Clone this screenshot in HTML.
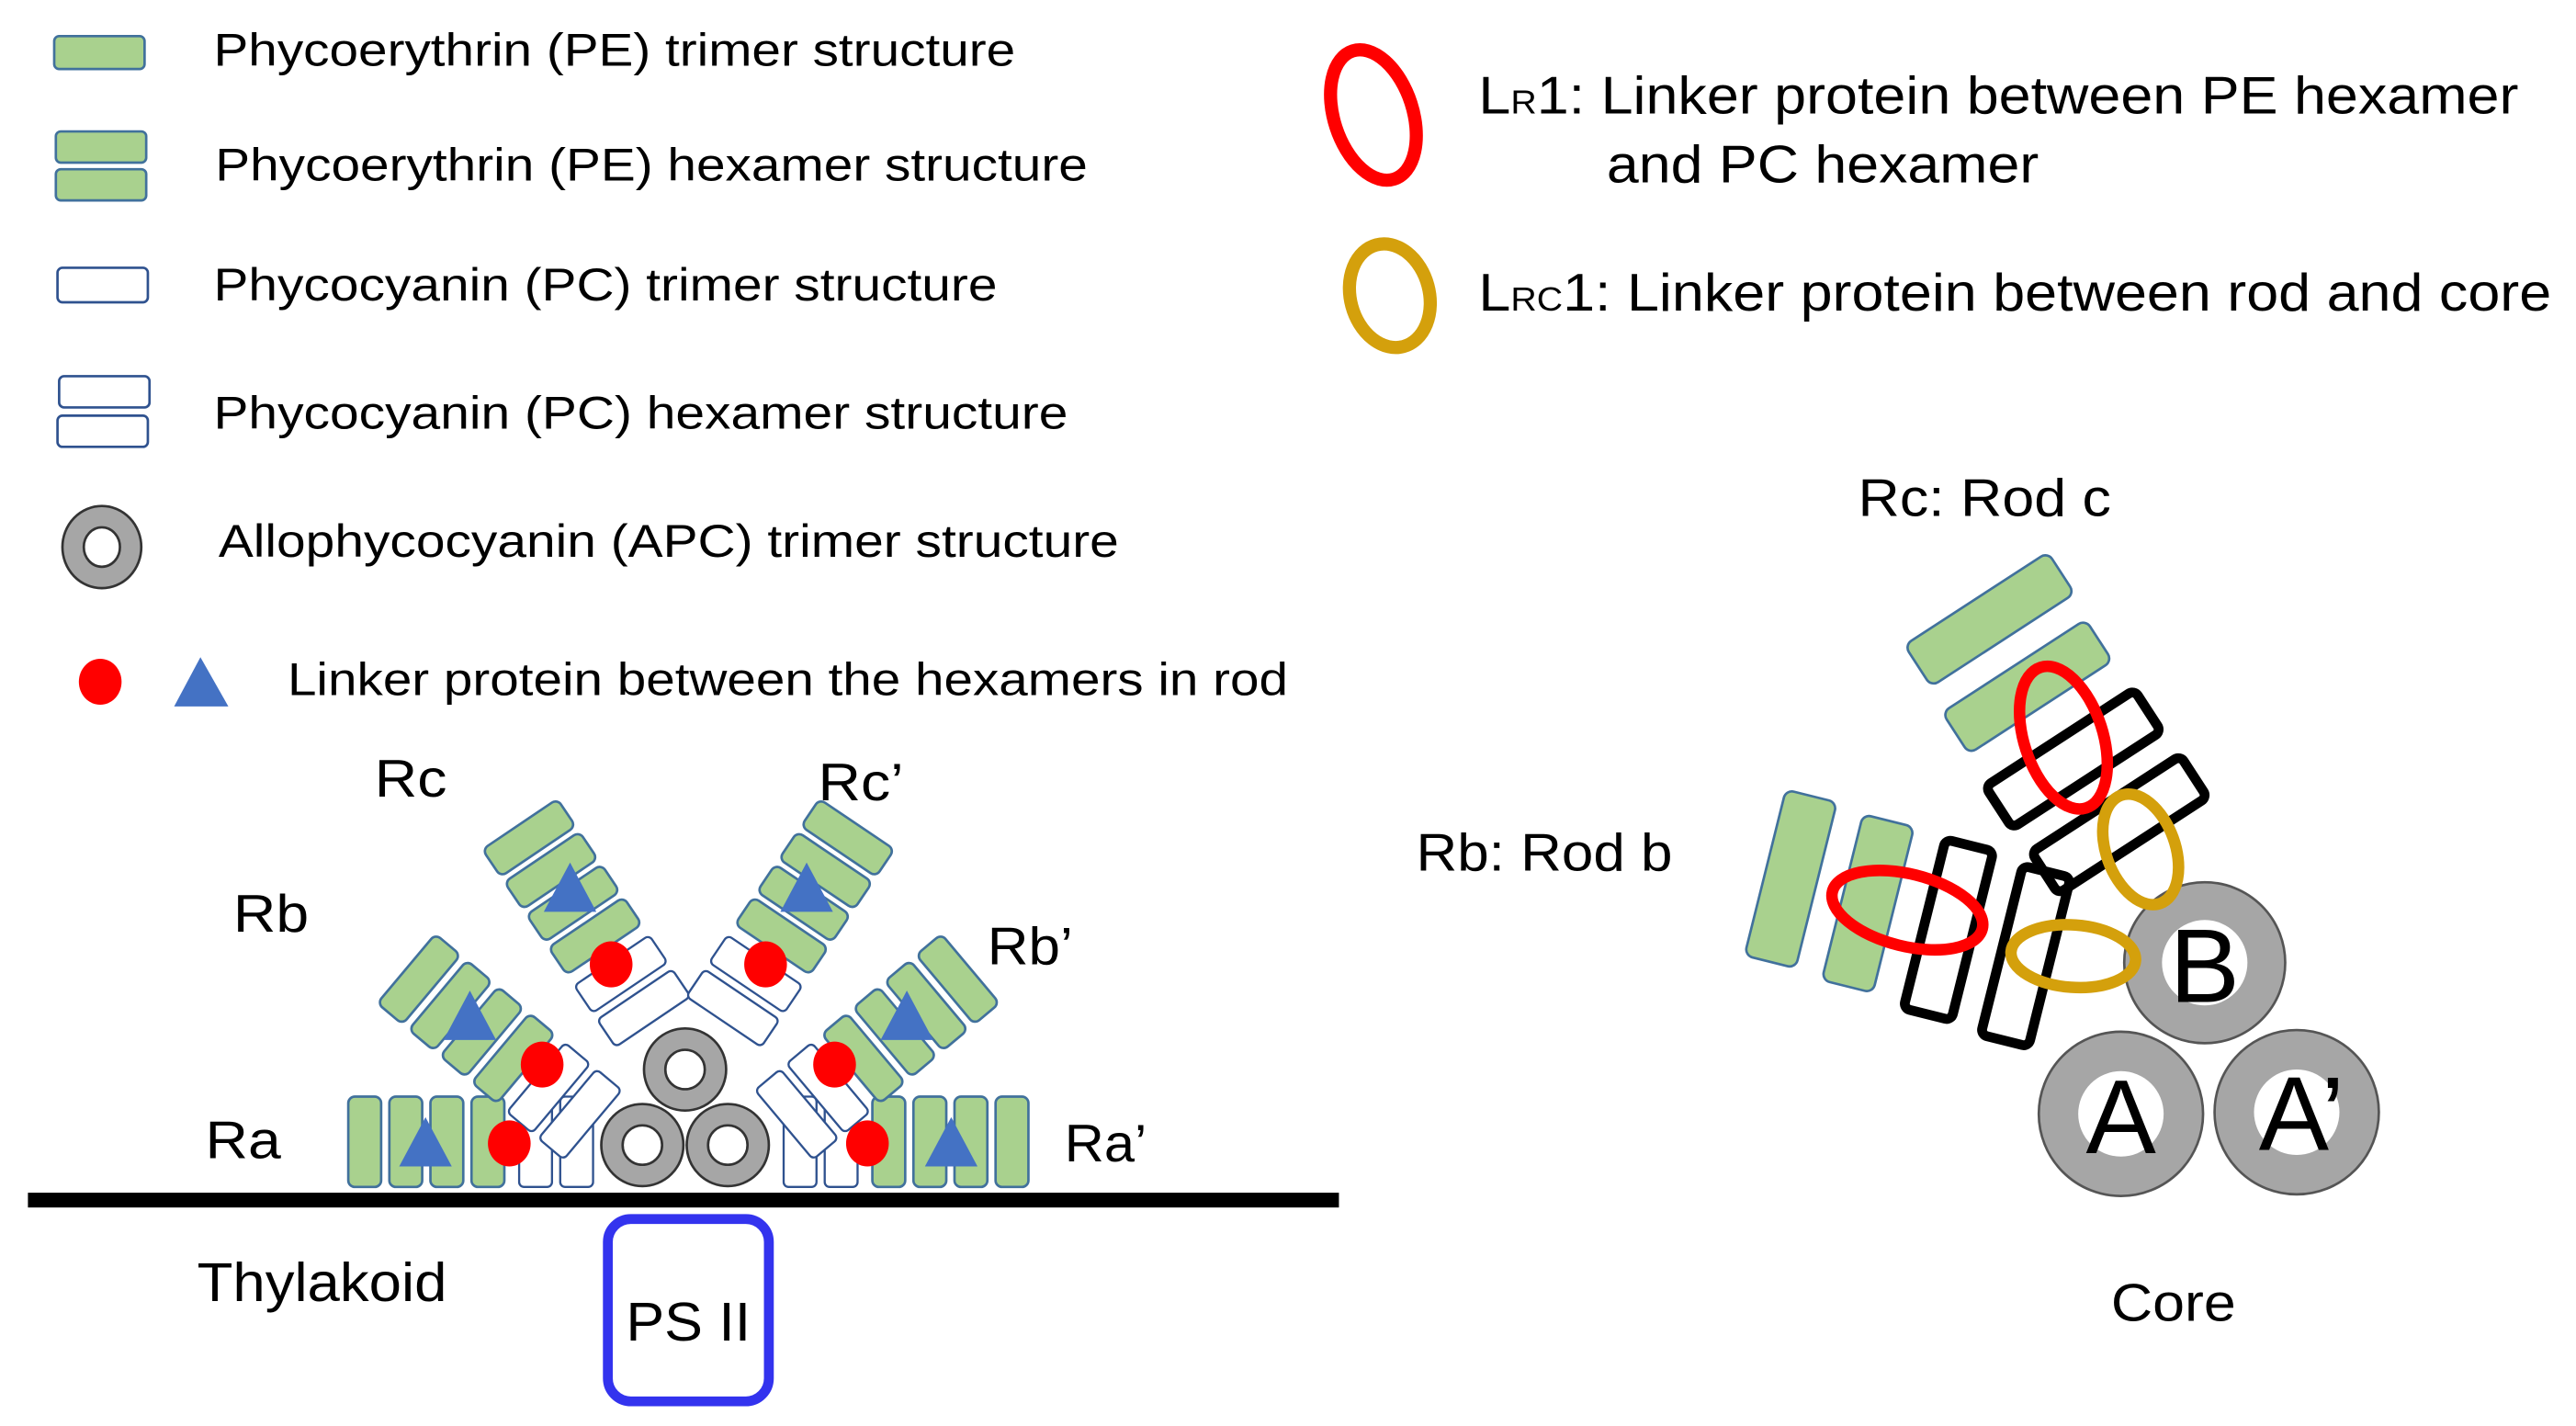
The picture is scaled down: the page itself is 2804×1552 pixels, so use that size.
<!DOCTYPE html>
<html><head><meta charset="utf-8"><style>
html,body{margin:0;padding:0;background:#fff;}
svg{display:block;}
text{font-family:"Liberation Sans",Arial,sans-serif;fill:#000;}
</style></head><body>
<svg width="2804" height="1552" viewBox="0 0 1568 868" preserveAspectRatio="none" xmlns="http://www.w3.org/2000/svg">
<defs>
<g id="g"><rect x="-10" y="-27.5" width="20" height="55" rx="4" fill="#a9d18e" stroke="#41719c" stroke-width="1.5"/></g>
<g id="w"><rect x="-10" y="-27.5" width="20" height="55" rx="3" fill="#fff" stroke="#2f528f" stroke-width="1.3"/></g>
<g id="tri"><polygon points="-16,14 16,14 0,-16" fill="#4472c4"/></g>
<g id="half">
  <g transform="translate(222,695)">
    <use href="#g" x="0"/><use href="#g" x="25"/><use href="#g" x="50"/><use href="#g" x="75"/>
    <use href="#w" x="104"/><use href="#w" x="129"/>
  </g>
  <g transform="translate(255,596) rotate(40)">
    <use href="#g" x="0"/><use href="#g" x="25"/><use href="#g" x="50"/><use href="#g" x="75"/>
    <use href="#w" x="103"/><use href="#w" x="128"/>
  </g>
  <g transform="translate(322,510) rotate(56)">
    <use href="#g" x="0"/><use href="#g" x="24"/><use href="#g" x="48"/><use href="#g" x="72"/>
    <use href="#w" x="100"/><use href="#w" x="125"/>
  </g>
  <use href="#tri" x="259" y="696"/>
  <use href="#tri" x="286" y="619"/>
  <use href="#tri" x="347" y="541"/>
  <ellipse cx="310" cy="696" rx="13" ry="14" fill="#ff0000"/>
  <ellipse cx="330" cy="648" rx="13" ry="14" fill="#ff0000"/>
  <ellipse cx="372" cy="587" rx="13" ry="14" fill="#ff0000"/>
</g>
<g id="apc"><circle r="25" fill="#a6a6a6" stroke="#333" stroke-width="1.5"/><circle r="12" fill="#fff" stroke="#333" stroke-width="1.5"/></g>
</defs>

<rect x="33" y="22" width="55" height="20" rx="3" fill="#a9d18e" stroke="#41719c" stroke-width="1.5"/>
<text x="130" y="40" font-size="28" textLength="488" lengthAdjust="spacingAndGlyphs">Phycoerythrin (PE) trimer structure</text>
<rect x="34" y="80" width="55" height="19" rx="3" fill="#a9d18e" stroke="#41719c" stroke-width="1.5"/>
<rect x="34" y="103" width="55" height="19" rx="3" fill="#a9d18e" stroke="#41719c" stroke-width="1.5"/>
<text x="131" y="110" font-size="28" textLength="531" lengthAdjust="spacingAndGlyphs">Phycoerythrin (PE) hexamer structure</text>
<rect x="35" y="163" width="55" height="21" rx="3" fill="#fff" stroke="#2f528f" stroke-width="1.5"/>
<text x="130" y="183" font-size="28" textLength="477" lengthAdjust="spacingAndGlyphs">Phycocyanin (PC) trimer structure</text>
<rect x="36" y="229" width="55" height="19" rx="3" fill="#fff" stroke="#2f528f" stroke-width="1.5"/>
<rect x="35" y="253" width="55" height="19" rx="3" fill="#fff" stroke="#2f528f" stroke-width="1.5"/>
<text x="130" y="261" font-size="28" textLength="520" lengthAdjust="spacingAndGlyphs">Phycocyanin (PC) hexamer structure</text>
<ellipse cx="62" cy="333" rx="24" ry="25" fill="#a6a6a6" stroke="#333" stroke-width="1.5"/>
<ellipse cx="62" cy="333" rx="11" ry="12" fill="#fff" stroke="#333" stroke-width="1.5"/>
<text x="133" y="339" font-size="28" textLength="548" lengthAdjust="spacingAndGlyphs">Allophycocyanin (APC) trimer structure</text>
<ellipse cx="61" cy="415" rx="13" ry="14" fill="#ff0000"/>
<polygon points="106,430 139,430 122,400" fill="#4472c4"/>
<text x="175" y="423" font-size="28" textLength="609" lengthAdjust="spacingAndGlyphs">Linker protein between the hexamers in rod</text>

<ellipse cx="836" cy="70" rx="24" ry="41" transform="rotate(-18 836 70)" fill="none" stroke="#ff0000" stroke-width="8"/>
<text x="900" y="69" font-size="32" textLength="633" lengthAdjust="spacingAndGlyphs">L<tspan font-size="20">R</tspan>1: Linker protein between PE hexamer</text>
<text x="978" y="111" font-size="32" textLength="263" lengthAdjust="spacingAndGlyphs">and PC hexamer</text>
<ellipse cx="846" cy="180" rx="24" ry="32" transform="rotate(-15 846 180)" fill="none" stroke="#d4a00c" stroke-width="8"/>
<text x="900" y="189" font-size="32" textLength="653" lengthAdjust="spacingAndGlyphs">L<tspan font-size="20">RC</tspan>1: Linker protein between rod and core</text>

<use href="#half"/>
<use href="#half" transform="translate(838,0) scale(-1,1)"/>
<use href="#apc" x="391" y="697"/>
<use href="#apc" x="443" y="697"/>
<use href="#apc" x="417" y="651"/>
<rect x="17" y="726" width="798" height="9" fill="#000"/>
<rect x="370" y="742" width="98" height="111" rx="14" fill="none" stroke="#3333ee" stroke-width="6"/>
<text x="419" y="816" font-size="33" text-anchor="middle" textLength="76" lengthAdjust="spacingAndGlyphs">PS II</text>
<text x="120" y="792" font-size="33" textLength="152" lengthAdjust="spacingAndGlyphs">Thylakoid</text>
<text x="228" y="485" font-size="32" textLength="44" lengthAdjust="spacingAndGlyphs">Rc</text>
<text x="498" y="487" font-size="32" textLength="52" lengthAdjust="spacingAndGlyphs">Rc’</text>
<text x="142" y="567" font-size="32" textLength="46" lengthAdjust="spacingAndGlyphs">Rb</text>
<text x="601" y="587" font-size="32" textLength="52" lengthAdjust="spacingAndGlyphs">Rb’</text>
<text x="125" y="705" font-size="32" textLength="46" lengthAdjust="spacingAndGlyphs">Ra</text>
<text x="648" y="707" font-size="32" textLength="50" lengthAdjust="spacingAndGlyphs">Ra’</text>

<text x="1131" y="314" font-size="32" textLength="154" lengthAdjust="spacingAndGlyphs">Rc: Rod c</text>
<text x="862" y="530" font-size="32" textLength="156" lengthAdjust="spacingAndGlyphs">Rb: Rod b</text>
<text x="1285" y="804" font-size="32" textLength="76" lengthAdjust="spacingAndGlyphs">Core</text>

<g transform="translate(1211,377) rotate(-33)"><rect x="-52" y="-15" width="104" height="30" rx="5" fill="#a9d18e" stroke="#41719c" stroke-width="1.5"/></g>
<g transform="translate(1234,418) rotate(-33)"><rect x="-52" y="-15" width="104" height="30" rx="5" fill="#a9d18e" stroke="#41719c" stroke-width="1.5"/></g>
<g transform="translate(1090,535) rotate(14)"><rect x="-16" y="-52" width="32" height="104" rx="5" fill="#a9d18e" stroke="#41719c" stroke-width="1.5"/></g>
<g transform="translate(1137,550) rotate(14)"><rect x="-16" y="-52" width="32" height="104" rx="5" fill="#a9d18e" stroke="#41719c" stroke-width="1.5"/></g>
<g transform="translate(1262,462) rotate(-33)"><rect x="-54" y="-15" width="108" height="30" rx="4" fill="none" stroke="#000" stroke-width="6"/></g>
<g transform="translate(1290,502) rotate(-33)"><rect x="-54" y="-15" width="108" height="30" rx="4" fill="none" stroke="#000" stroke-width="6"/></g>
<g transform="translate(1186,566) rotate(14)"><rect x="-15" y="-53" width="30" height="106" rx="4" fill="none" stroke="#000" stroke-width="6"/></g>
<g transform="translate(1233,582) rotate(14)"><rect x="-15" y="-53" width="30" height="106" rx="4" fill="none" stroke="#000" stroke-width="6"/></g>

<circle cx="1342" cy="586" r="49" fill="#a6a6a6" stroke="#555" stroke-width="1.5"/>
<circle cx="1342" cy="586" r="26" fill="#fff"/>
<circle cx="1291" cy="678" r="50" fill="#a6a6a6" stroke="#555" stroke-width="1.5"/>
<circle cx="1291" cy="678" r="26" fill="#fff"/>
<circle cx="1398" cy="677" r="50" fill="#a6a6a6" stroke="#555" stroke-width="1.5"/>
<circle cx="1398" cy="677" r="26" fill="#fff"/>
<text x="1342" y="610" font-size="64" text-anchor="middle">B</text>
<text x="1291" y="702" font-size="64" text-anchor="middle">A</text>
<text x="1401" y="700" font-size="64" text-anchor="middle">A’</text>

<ellipse cx="1256" cy="449" rx="24" ry="45" transform="rotate(-18 1256 449)" fill="none" stroke="#ff0000" stroke-width="7"/>
<ellipse cx="1161" cy="554" rx="47" ry="22" transform="rotate(14 1161 554)" fill="none" stroke="#ff0000" stroke-width="7"/>
<ellipse cx="1303" cy="517" rx="21" ry="35" transform="rotate(-20 1303 517)" fill="none" stroke="#d4a00c" stroke-width="7"/>
<ellipse cx="1262" cy="582" rx="38" ry="19" transform="rotate(4 1262 582)" fill="none" stroke="#d4a00c" stroke-width="7"/>
</svg>
</body></html>
